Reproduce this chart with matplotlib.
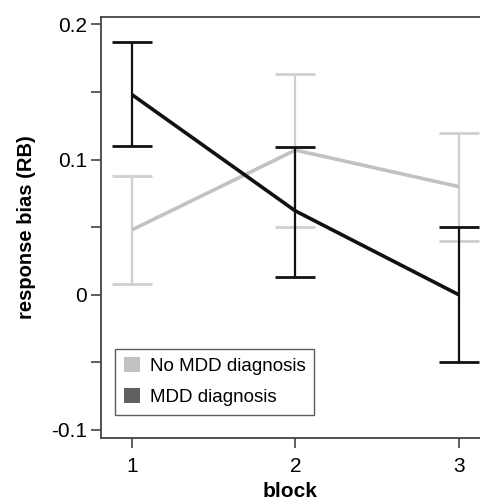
import matplotlib
matplotlib.use("Agg")
import matplotlib.pyplot as plt
from matplotlib.patches import Patch

blocks = [1, 2, 3]
no_mdd_mean = [0.048, 0.107, 0.080]
no_mdd_upper = [0.088, 0.163, 0.120]
no_mdd_lower = [0.008, 0.050, 0.040]
mdd_mean = [0.148, 0.062, 0.000]
mdd_upper = [0.187, 0.109, 0.050]
mdd_lower = [0.110, 0.013, -0.050]
yticks_major = [-0.1, 0, 0.1, 0.2]
ytick_labels = ["-0.1", "0", "0.1", "0.2"]
yticks_minor = [-0.05, 0.05, 0.15]

plt.rcParams['font.family'] = ['Liberation Sans', 'DejaVu Sans']

fig = plt.figure(figsize=(4.8, 5.04), dpi=100)
ax = fig.add_axes([0.2104, 0.131, 0.7896, 0.835])

light = "#c2c2c2"
light_err = "#cfcfcf"
dark = "#111111"

def draw(mean, lo, hi, lc, ec, z):
    yerr = [[m - l for m, l in zip(mean, lo)], [h - m for m, h in zip(mean, hi)]]
    ax.errorbar(blocks, mean, yerr=yerr, fmt='none', ecolor=ec, elinewidth=1.6,
                capsize=14.4, capthick=2.0, zorder=z)
    ax.plot(blocks, mean, color=lc, lw=2.6, zorder=z + 0.5, solid_capstyle='butt')

draw(no_mdd_mean, no_mdd_lower, no_mdd_upper, light, light_err, 2)
draw(mdd_mean, mdd_lower, mdd_upper, dark, dark, 3)

ax.set_xlim(0.81, 3.13)
ax.set_ylim(-0.106, 0.2054)
ax.set_xticks(blocks)
ax.set_xticklabels([str(b) for b in blocks])
ax.set_yticks(yticks_major)
ax.set_yticklabels(ytick_labels)
ax.set_yticks(yticks_minor, minor=True)
ax.tick_params(axis='both', which='both', direction='out', length=7, width=1.2,
               color="#444444", labelsize=15, pad=3)
ax.tick_params(axis='x', pad=7)
ax.tick_params(axis='y', which='minor', length=7)
for s in ['left', 'top', 'bottom']:
    ax.spines[s].set_color("#444444")
    ax.spines[s].set_linewidth(1.3)
ax.spines['right'].set_visible(False)

ax.set_xlabel("block", fontsize=15, fontweight='bold', labelpad=4)
ax.set_ylabel("response bias (RB)", fontsize=14.5, fontweight='bold', labelpad=11)

handles = [Patch(facecolor=light, edgecolor='none', label="No MDD diagnosis"),
           Patch(facecolor="#606060", edgecolor='none', label="MDD diagnosis")]
leg = ax.legend(handles=handles, loc='lower left', bbox_to_anchor=(0.038, 0.055),
                fontsize=13.5, frameon=True, fancybox=False, handlelength=0.85,
                handleheight=0.85, handletextpad=0.55, borderpad=0.45,
                labelspacing=0.7, borderaxespad=0)
leg.get_frame().set_edgecolor("#333333")
leg.get_frame().set_linewidth(1.0)

fig.savefig("out.png", dpi=100)
